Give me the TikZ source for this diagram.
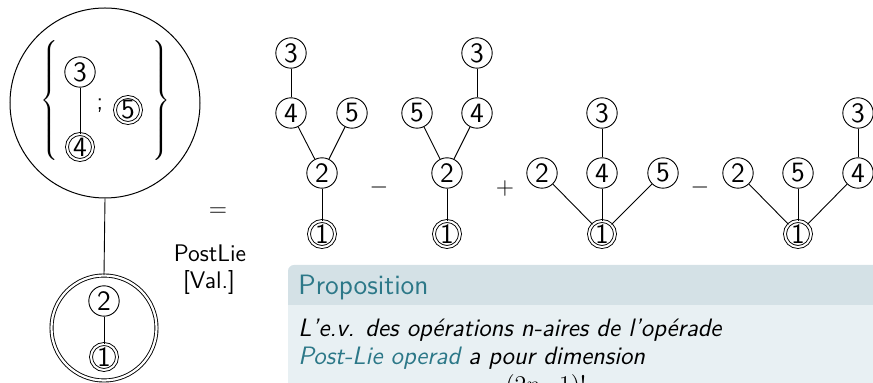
\documentclass[tikz,border=0pt]{standalone}
\usepackage{fontspec}
\definecolor{blocktitlebg}{RGB}{212,225,230}
\definecolor{blockbodybg}{RGB}{232,240,243}
\definecolor{blockteal}{RGB}{44,120,136}
\begin{document}
\begin{tikzpicture}[x=0.5pt,y=-0.5pt,
  font=\sffamily\fontsize{12}{14}\selectfont,
  v/.style={draw,circle,inner sep=0pt,minimum size=15.2pt,line width=0.45pt,
    font=\sffamily\fontsize{14}{16}\selectfont},
  vr/.style={v,double,double distance=1pt,minimum size=13.0pt},
  e/.style={line width=0.45pt},
  txt/.style={anchor=base west,inner sep=0pt}]
\useasboundingbox (0,0) rectangle (873,383);

% upper composite vertex: {3-4 ; 5}
\node[draw,circle,minimum size=95pt,line width=0.5pt] (big) at (105,103) {};
\node (lb) at (51,103) {$\left\{\vrule height 29pt depth 29pt width 0pt\right.$};
\node (rb) at (160,103) {$\left.\vrule height 29pt depth 29pt width 0pt\right\}$};
\node[v] (a3) at (80,72) {3};
\node[vr] (a4) at (80,147) {4};
\node (semi) at (100,106) {;};
\node[vr] (a5) at (128,110) {5};
\draw[e] (a3) -- (a4);

% lower composite vertex: 2-1
\node[draw,circle,double,double distance=1.1pt,minimum size=52.5pt,line width=0.45pt] (low) at (104,328) {};
\node[v] (b2) at (104,301) {2};
\node[vr] (b1) at (104,357) {1};
\draw[e] (b2) -- (b1);
\draw[e] (big.south) -- (low.north);

% equality with reference
\node (eq) at (218,212) {$=$};
\node (pl) at (210,253) {PostLie};
\node (val) at (209,283) {[Val.]};

% tree 1
\node[v] (t1n3) at (291,53) {3};
\node[v] (t1n4) at (291,113) {4};
\node[v] (t1n5) at (352,113) {5};
\node[v] (t1n2) at (322,173) {2};
\node[vr] (t1n1) at (322,234) {1};
\draw[e] (t1n3) -- (t1n4);
\draw[e] (t1n4) -- (t1n2);
\draw[e] (t1n5) -- (t1n2);
\draw[e] (t1n2) -- (t1n1);

\node (op1) at (379,188) {$-$};

% tree 2
\node[v] (t2n3) at (477,53) {3};
\node[v] (t2n5) at (417,113) {5};
\node[v] (t2n4) at (477,113) {4};
\node[v] (t2n2) at (447,173) {2};
\node[vr] (t2n1) at (447,234) {1};
\draw[e] (t2n3) -- (t2n4);
\draw[e] (t2n5) -- (t2n2);
\draw[e] (t2n4) -- (t2n2);
\draw[e] (t2n2) -- (t2n1);

\node (op2) at (505,189) {$+$};

% tree 3
\node[v] (t3n2) at (542,173) {2};
\node[v] (t3n3) at (602,113) {3};
\node[v] (t3n4) at (602,173) {4};
\node[v] (t3n5) at (663,173) {5};
\node[vr] (t3n1) at (602,234) {1};
\draw[e] (t3n3) -- (t3n4);
\draw[e] (t3n2) -- (t3n1);
\draw[e] (t3n4) -- (t3n1);
\draw[e] (t3n5) -- (t3n1);

\node (op3) at (700,188) {$-$};

% tree 4
\node[v] (t4n2) at (738,173) {2};
\node[v] (t4n5) at (798,173) {5};
\node[v] (t4n4) at (858,173) {4};
\node[v] (t4n3) at (858,113) {3};
\node[vr] (t4n1) at (798,234) {1};
\draw[e] (t4n3) -- (t4n4);
\draw[e] (t4n2) -- (t4n1);
\draw[e] (t4n5) -- (t4n1);
\draw[e] (t4n4) -- (t4n1);

% proposition block
\begin{scope}
\clip (0,0) rectangle (873,383);
\fill[blockbodybg] (288,305) rectangle (900,420);
\fill[blocktitlebg] (288,305) [rounded corners=3pt] |- (900,265) [sharp corners] -- (900,305) -- cycle;
\node[txt,text=blockteal,font=\sffamily\fontsize{14}{16}\selectfont] (ptitle) at (298,295) {Proposition};
\node[txt,font=\sffamily\itshape\fontsize{12.6}{15}\selectfont] (line1) at (298,337) {L'e.v. des opérations n-aires de l'opérade};
\node[txt,font=\sffamily\itshape\fontsize{12.6}{15}\selectfont] (line2) at (298,365) {{\color{blockteal}Post-Lie operad} a pour dimension};
\node[anchor=base,inner sep=0pt,font=\fontsize{18}{20}\selectfont] (line3) at (546,408) {$\frac{(2n-1)!}{n!}$};
\end{scope}
\end{tikzpicture}
\end{document}
